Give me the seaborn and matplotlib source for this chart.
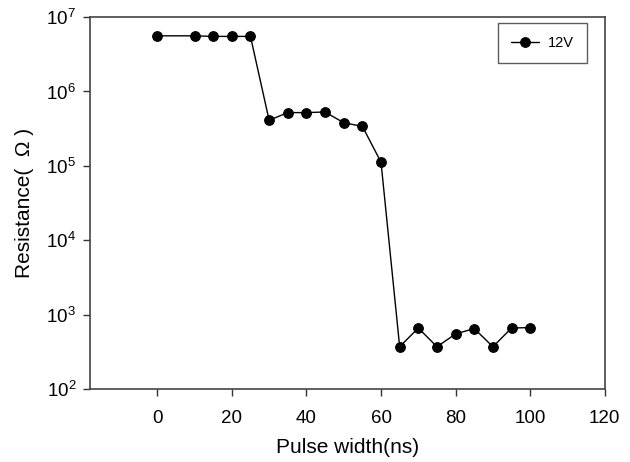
import numpy as np
import pandas as pd
import matplotlib
matplotlib.use("Agg")
import matplotlib.pyplot as plt
import seaborn as sns

# data
pulse_width = [0, 10, 15, 20, 25, 30, 35, 40, 45, 50, 55, 60, 65, 70, 75, 80, 85, 90, 95, 100]
resistance = [5.6e6, 5.6e6, 5.5e6, 5.5e6, 5.5e6, 4.1e5, 5.2e5, 5.2e5, 5.3e5, 3.8e5,
              3.4e5, 1.12e5, 370, 660, 370, 550, 650, 370, 660, 670]
series_label = "12V"
x_ticks = [0, 20, 40, 60, 80, 100, 120]

sns.set_style("ticks")
plt.rcParams['font.family'] = ['Liberation Sans', 'DejaVu Sans']
plt.rcParams['mathtext.fontset'] = 'custom'
plt.rcParams['mathtext.rm'] = 'Liberation Sans'
plt.rcParams['mathtext.it'] = 'Liberation Sans'
plt.rcParams['mathtext.default'] = 'regular'
plt.rcParams['text.color'] = 'black'
plt.rcParams['axes.labelcolor'] = 'black'
plt.rcParams['xtick.color'] = 'black'
plt.rcParams['ytick.color'] = 'black'

df = pd.DataFrame({'Pulse width': pulse_width, 'Resistance': resistance})

fig = plt.figure(figsize=(6.3, 4.62), dpi=100)
ax = fig.add_axes([0.143, 0.158, 0.817, 0.805])

sns.lineplot(data=df, x='Pulse width', y='Resistance', ax=ax, color='black',
             marker='o', markersize=7, markeredgecolor='black', linewidth=1,
             label=series_label)

ax.set_yscale('log')
ax.set_ylim(1e2, 1e7)
ax.set_xlim(-18, 120)
ax.set_xticks(x_ticks)
ax.yaxis.set_minor_locator(matplotlib.ticker.NullLocator())
ax.tick_params(axis='both', which='major', direction='out', length=5, width=1,
               labelsize=13.5, color='#333333', pad=5)
ax.tick_params(axis='x', pad=10)

for side in ['top', 'right', 'left', 'bottom']:
    ax.spines[side].set_visible(True)
    ax.spines[side].set_color('#444444')
    ax.spines[side].set_linewidth(1.2)

ax.set_xlabel('Pulse width(ns)', fontsize=15, labelpad=8)
ax.set_ylabel('Resistance(  Ω )', fontsize=15, labelpad=9)

leg = ax.legend(loc='upper right', fontsize=10.5, fancybox=False, frameon=True,
                edgecolor='#333333', handlelength=1.9, borderpad=0.9,
                handletextpad=0.6, borderaxespad=0,
                bbox_to_anchor=(0.965, 0.984))
leg.get_frame().set_linewidth(1)

fig.savefig('out.png', dpi=100)
